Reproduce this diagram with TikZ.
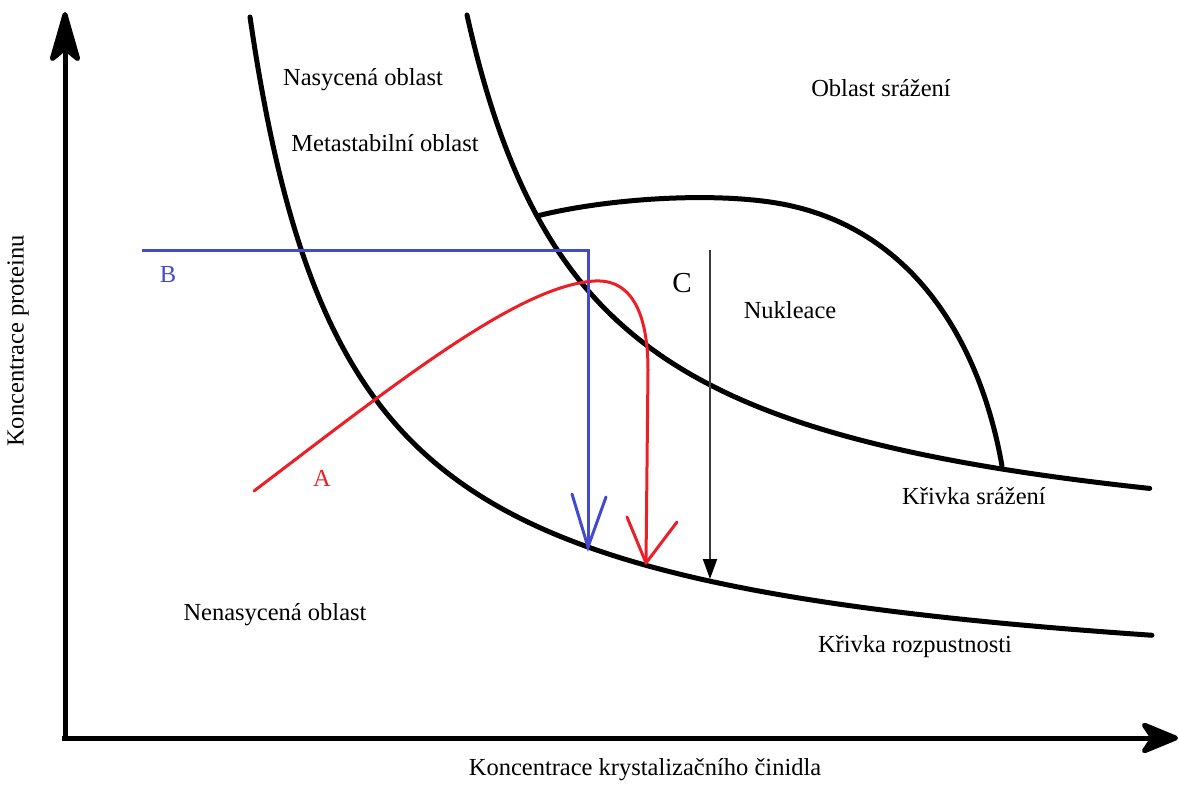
\documentclass[tikz,border=0pt]{standalone}
\usepackage{fontspec}
\setmainfont{Liberation Serif}
\usetikzlibrary{arrows.meta}
\definecolor{bluel}{RGB}{66,74,206}
\definecolor{redl}{RGB}{237,30,38}
\definecolor{cgray}{RGB}{60,60,60}
\tikzset{
  lbl/.style={font=\fontsize{24.5}{28}\selectfont, inner sep=0pt},
  curve/.style={line width=5pt, black, line cap=round, line join=round},
  axis/.style={line width=5pt, black},
  bluepath/.style={line width=3pt, bluel, line join=miter},
  redpath/.style={line width=3pt, redl, line cap=round, line join=round},
}
\begin{document}
\begin{tikzpicture}[x=1pt,y=-1pt]
\useasboundingbox (0,0) rectangle (1179,787);
% axes
\coordinate (ytop) at (65,12);
\coordinate (ybot) at (65,740);
\coordinate (xstart) at (62,738);
\coordinate (xend) at (1178,738);
\draw[axis,-{Stealth[length=60pt,width=34pt,inset=14pt,round]}] (ybot) -- (ytop);
\draw[axis,-{Stealth[length=44pt,width=36pt,inset=12pt,round]}] (xstart) -- (xend);
% solubility curve: y = 703.8 - 68680/(x-150)
\draw[curve] plot[domain=2.5:11.52, samples=220, smooth] ({\x*100}, {703.8-686.8/(\x-1.5)});
% precipitation curve: y = 575.1 - 70010/(x-342)
\draw[curve] plot[domain=4.67:11.50, samples=220, smooth] ({\x*100}, {575.1-700.1/(\x-3.42)});
% nucleation boundary
\coordinate (n0) at (537,216);
\coordinate (n1) at (770,202);
\coordinate (n2) at (1002,466);
\draw[curve] (n0) .. controls (600,200) and (700,192) .. (n1)
  .. controls (910,222) and (980,340) .. (n2);
% blue path B
\coordinate (bstart) at (142,250);
\coordinate (bcorner) at (588,250);
\coordinate (btip) at (588,547);
\coordinate (barml) at (572,494);
\coordinate (barmr) at (606,497);
\draw[bluepath] (bstart) -- (bcorner) -- (btip);
\draw[bluepath,line cap=round] (barml) -- (btip) -- (barmr);
% red path A
\coordinate (rstart) at (254,491);
\coordinate (rpeak) at (595,281);
\coordinate (rbend) at (648,370);
\coordinate (rtip) at (646,563);
\coordinate (rarml) at (627,517);
\coordinate (rarmr) at (677,522);
\draw[redpath] (rstart) .. controls (400,380) and (520,285) .. (rpeak)
  .. controls (635,279) and (648,320) .. (rbend) -- (rtip);
\draw[redpath] (rarml) -- (rtip) -- (rarmr);
% arrow C
\coordinate (ctop) at (710,250);
\coordinate (cbot) at (710,579);
\draw[cgray,line width=2pt,-{Triangle[length=20pt,width=14pt,color=black]}] (ctop) -- (cbot);
% labels
\node[lbl] (nas) at (363,80) {Nasycená oblast};
\node[lbl] (meta) at (385,143) {Metastabilní oblast};
\node[lbl] (obl) at (881,88) {Oblast srážení};
\node[lbl,text=bluel] (lb) at (168,275) {B};
\node[lbl,font=\fontsize{29}{32}\selectfont] (lc) at (682,283) {C};
\node[lbl] (nuk) at (790,310) {Nukleace};
\node[lbl,text=redl] (la) at (322,478) {A};
\node[lbl] (ks) at (974,496) {Křivka srážení};
\node[lbl] (kr) at (915,647) {Křivka rozpustnosti};
\node[lbl] (nen) at (275,615) {Nenasycená oblast};
\node[lbl] (xl) at (645,770) {Koncentrace krystalizačního činidla};
\node[lbl,rotate=90] (yl) at (18,341) {Koncentrace proteinu};
\end{tikzpicture}
\end{document}
